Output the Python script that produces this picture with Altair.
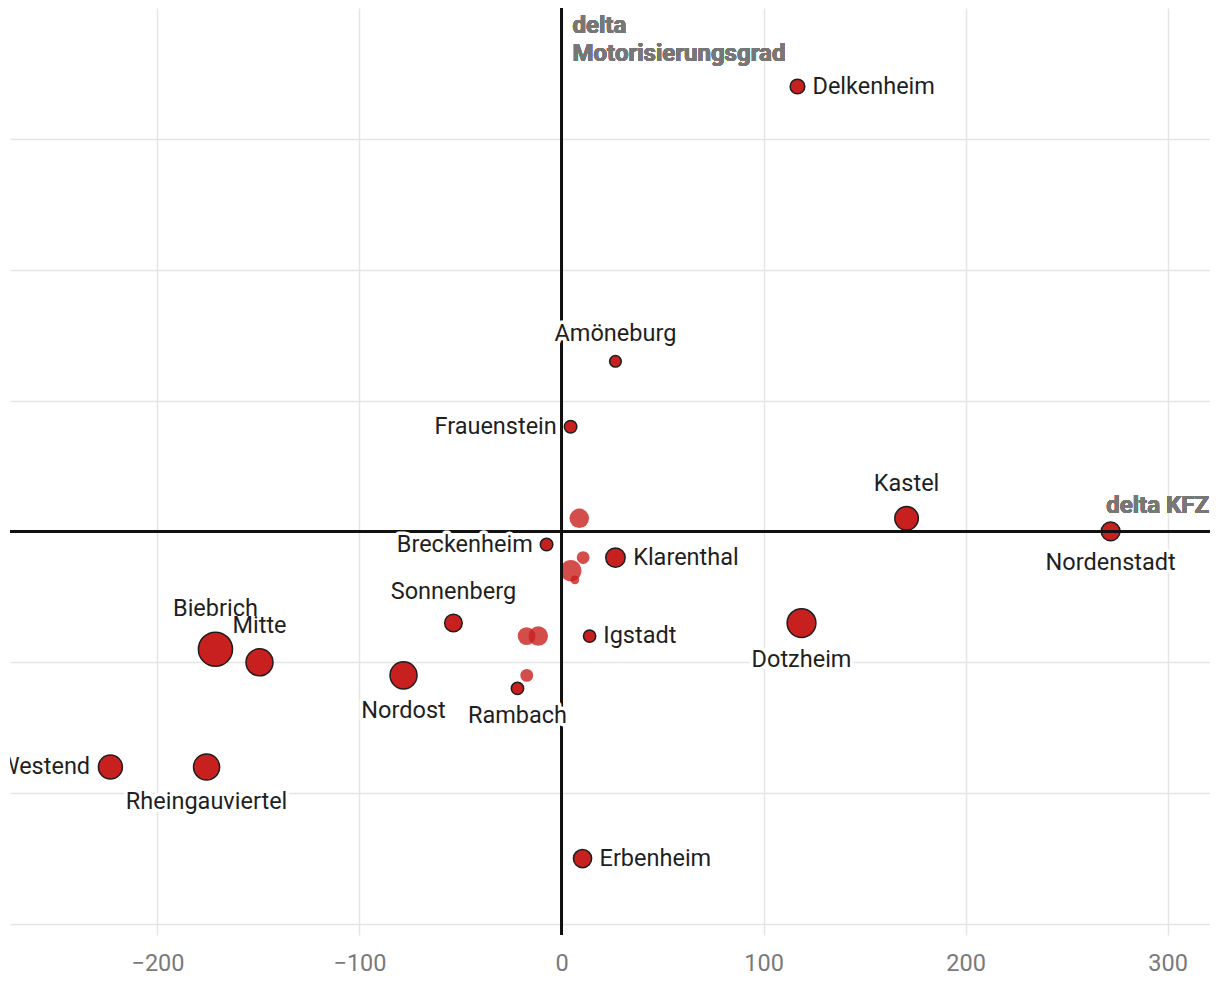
import altair as alt
import pandas as pd

# --- Daten ---
namen = ["Delkenheim", "Amöneburg", "Frauenstein", "Kastel", "Nordenstadt",
         "Breckenheim", "Klarenthal", "Sonnenberg", "Igstadt", "Dotzheim",
         "Biebrich", "Mitte", "Nordost", "Rambach", "Westend",
         "Rheingauviertel", "Erbenheim"]
delta_kfz = [116.8, 26.7, 4.5, 170.8, 271.8, -7.4, 26.7, -53.5, 13.9, 118.8,
             -171.3, -149.5, -78.2, -21.8, -223.3, -175.7, 10.4]
delta_mot = [34, 13, 8, 1, 0, -1, -2, -7, -8, -7, -9, -10, -11, -12, -18, -18, -25]
einwohner = [6600, 4150, 4800, 17000, 10800, 4800, 11600, 9500, 4650, 25500,
             35800, 22500, 22500, 4650, 17700, 21000, 10200]
lage = ["rechts", "oben", "links", "oben", "unten", "links", "rechts", "oben",
        "rechts", "unten", "oben", "oben", "unten", "unten", "links", "unten", "rechts"]

# weitere Punkte ohne Beschriftung
delta_kfz_o = [8.8, 10.7, 4.6, 6.6, -11.5, -17.3, -17.2]
delta_mot_o = [1, -2, -3, -3.7, -8, -8, -11]
einwohner_o = [11700, 5000, 13900, 2400, 11700, 9700, 5150]

x_ticks = [-200, -100, 0, 100, 200, 300]
y_grid = [-30, -20, -10, 0, 10, 20, 30]

XMIN, XMAX = -273, 321
YMIN, YMAX = -30, 40
W, H = 1200, 916
UX = (XMAX - XMIN) / W
UY = (YMAX - YMIN) / H
SIZE_MAX_POP, SIZE_MAX_AREA = 40000, 1300
FONT = "Roboto"
FS = 23.5
RED = "#c8201e"

df = pd.DataFrame({"name": namen, "dkfz": delta_kfz, "dmot": delta_mot,
                   "einwohner": einwohner, "lage": lage})
df_o = pd.DataFrame({"dkfz": delta_kfz_o, "dmot": delta_mot_o, "einwohner": einwohner_o})

xs = alt.Scale(domain=[XMIN, XMAX], nice=False, zero=False)
ys = alt.Scale(domain=[YMIN, YMAX], nice=False, zero=False)
ss = alt.Scale(domain=[0, SIZE_MAX_POP], range=[0, SIZE_MAX_AREA], zero=True)

X = alt.X("dkfz:Q", scale=xs, title=None,
          axis=alt.Axis(values=x_ticks, grid=True, domain=False, ticks=True,
                        tickSize=11, tickColor="#e5e5e5", tickWidth=1.5,
                        gridColor="#e5e5e5", gridWidth=1.5,
                        labelFont=FONT, labelFontSize=FS, labelColor="#7a7a7a",
                        labelPadding=16))
Y = alt.Y("dmot:Q", scale=ys, title=None,
          axis=alt.Axis(values=y_grid, grid=True, domain=False, ticks=False,
                        labels=False, gridColor="#e5e5e5", gridWidth=1.5))

punkte_o = alt.Chart(df_o).mark_circle(color=RED, opacity=0.8).encode(
    x=X, y=Y, size=alt.Size("einwohner:Q", scale=ss, legend=None))

punkte = alt.Chart(df).mark_circle(color=RED, opacity=1, stroke="#1e1e1e",
                                   strokeWidth=1.5).encode(
    x=alt.X("dkfz:Q", scale=xs), y=alt.Y("dmot:Q", scale=ys),
    size=alt.Size("einwohner:Q", scale=ss, legend=None))

zero_h = alt.Chart(df).mark_rule(color="#111", strokeWidth=1.4).encode(
    x=alt.datum(XMIN), x2=alt.datum(XMAX), y=alt.datum(0))
zero_v = alt.Chart(df).mark_rule(color="#111", strokeWidth=1.4).encode(
    x=alt.datum(0), y=alt.datum(YMAX), y2=alt.datum(YMIN - 0.85))

lab_base = alt.Chart(df).transform_calculate(
    r=f"sqrt(datum.einwohner*{SIZE_MAX_AREA / SIZE_MAX_POP}/PI) + 0.75"
).transform_calculate(
    lx=f"datum.dkfz + (datum.lage=='rechts' ? (datum.r+6) : datum.lage=='links' ? -(datum.r+6) : 0)*{UX}",
    ly=f"datum.dmot + (datum.lage=='oben' ? (datum.r+20) : datum.lage=='unten' ? -(datum.r+20) : 0)*{UY}",
)

layers_lab = []
for align, lagen in [("left", ["rechts"]), ("right", ["links"]), ("center", ["oben", "unten"])]:
    sub = lab_base.transform_filter(alt.FieldOneOfPredicate(field="lage", oneOf=lagen))
    enc = dict(x=alt.X("lx:Q", scale=xs), y=alt.Y("ly:Q", scale=ys), text="name:N")
    layers_lab.append(sub.mark_text(align=align, baseline="middle", font=FONT, fontSize=FS,
                                    fill="white", stroke="white", strokeWidth=7,
                                    strokeJoin="round", clip=True).encode(**enc))
    layers_lab.append(sub.mark_text(align=align, baseline="middle", font=FONT, fontSize=FS,
                                    color="#1f1f1f", clip=True).encode(**enc))

titel_y = alt.Chart(df).mark_text(align="left", baseline="top", font=FONT, fontSize=24,
                                  fontWeight="bold", color="#777777", dx=11, dy=6,
                                  lineHeight=28).encode(
    x=alt.datum(0), y=alt.datum(YMAX), text=alt.value(["delta", "Motorisierungsgrad"]))
titel_x = alt.Chart(df).mark_text(align="right", baseline="alphabetic", font=FONT, fontSize=24,
                                  fontWeight="bold", color="#777777", dx=-1, dy=-18).encode(
    x=alt.datum(XMAX), y=alt.datum(0), text=alt.value("delta KFZ"))

chart = alt.layer(punkte_o, punkte, zero_h, zero_v, *layers_lab,
                  titel_y, titel_x).properties(
    width=W, height=H,
    background="white",
    autosize=alt.AutoSizeParams(type="none"),
    padding={"left": 2, "top": 0, "right": 0, "bottom": 70},
).configure_view(stroke=None)

chart.save("out.html", embed_options={"renderer": "svg", "actions": False})
